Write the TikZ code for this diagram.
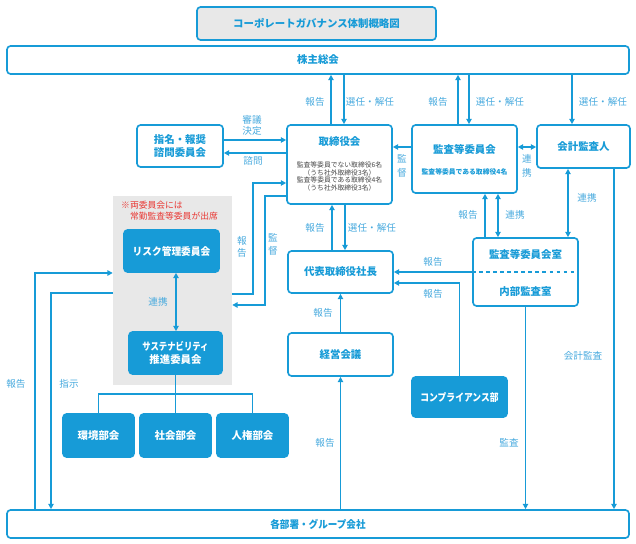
\documentclass[tikz,border=0pt]{standalone}
\usepackage{fontspec}
\setmainfont{Noto Sans CJK JP}
\usetikzlibrary{positioning, arrows.meta, calc}
\definecolor{govblue}{RGB}{23,155,215}
\definecolor{labelblue}{RGB}{72,170,222}
\definecolor{notered}{RGB}{232,56,52}
\definecolor{panelgray}{RGB}{232,232,232}
\definecolor{notegray}{RGB}{70,70,70}
\newcommand{\narrow}[2]{\scalebox{#1}[1]{#2}}

\begin{document}
\begin{tikzpicture}[
    x=0.03cm, y=-0.03cm,
    boxsize/.style 2 args={minimum width=#1*0.03cm, minimum height=#2*0.03cm},
    box/.style={
      draw=govblue, line width=1.4pt, rounded corners=3pt, fill=white,
      text=govblue, font=\fontsize{8.9}{11}\selectfont\bfseries,
      align=center, inner sep=0pt
    },
    filledbox/.style={box, fill=govblue, text=white},
    boxtext/.style={text=govblue, font=\fontsize{8.9}{11}\selectfont\bfseries, inner sep=0pt},
    lbl/.style={text=labelblue, font=\fontsize{8.2}{10}\selectfont, align=center, inner sep=0pt},
    arr/.style={draw=govblue, line width=1.1pt, -{Triangle[length=4.5pt, width=4.5pt]}},
    dblarr/.style={arr, {Triangle[length=4.5pt, width=4.5pt]}-{Triangle[length=4.5pt, width=4.5pt]}},
    link/.style={draw=govblue, line width=1.1pt},
]
    \useasboundingbox (0,0) rectangle (636,544);

    % Title and the two long bars
    \node[box, fill=panelgray, boxsize={239}{33}] (title) at (316.5,23.5) {コーポレートガバナンス体制概略図};
    \node[box, boxsize={622}{28}] (agm) at (318,60) {株主総会};
    \node[box, boxsize={622}{28}] (depts) at (318,524) {\narrow{0.92}{各部署・グループ会社}};

    % Grey panel with the committees
    \node[fill=panelgray, boxsize={119}{189}, inner sep=0pt] (panel) at (172.5,290.5) {};
    \node[text=notered, font=\fontsize{7.5}{9.4}\selectfont, align=left, anchor=west, inner sep=0pt]
      (panelnote) at (121,210.5) {※両委員会には\\\phantom{※}常勤監査等委員が出席};
    \node[filledbox, boxsize={95}{42}] (risk) at (171.5,251) {\narrow{0.93}{リスク管理委員会}};
    \node[filledbox, boxsize={93}{42}] (sust) at (175.5,353) {\narrow{0.8}{サステナビリティ}\\推進委員会};
    \node[filledbox, boxsize={71}{43}] (env) at (98.5,435.5) {環境部会};
    \node[filledbox, boxsize={71}{43}] (soc) at (175.5,435.5) {社会部会};
    \node[filledbox, boxsize={71}{43}] (hr) at (252.5,435.5) {人権部会};

    % Board level
    \node[box, boxsize={86}{42}] (nomin) at (180,146) {指名・報奨\\諮問委員会};
    \node[box, boxsize={105}{79}] (board) at (339.5,164.5) {};
    \node[boxtext] (boardtitle) at (339.5,142) {取締役会};
    \node[text=notegray, font=\fontsize{5.8}{6.6}\selectfont, align=center, inner sep=0pt]
      (boardnote) at (339.5,176.5) {監査等委員でない取締役6名\\（うち社外取締役3名）\\監査等委員である取締役4名\\（うち社外取締役3名）};
    \node[box, boxsize={105}{68}] (acc) at (464.5,159) {};
    \node[boxtext] (acctitle) at (464.5,149) {監査等委員会};
    \node[boxtext, font=\fontsize{5.8}{7}\selectfont\bfseries] (accnote) at (464.5,172) {監査等委員である取締役4名};
    \node[box, boxsize={93}{43}] (auditor) at (583.5,146.5) {会計監査人};

    % Executive level
    \node[box, boxsize={105}{42}] (ceo) at (340.5,272) {代表取締役社長};
    \node[box, boxsize={105}{43}] (mgmt) at (340.5,354.5) {経営会議};
    \node[filledbox, boxsize={95}{40}] (comp) at (459.5,397) {\narrow{0.84}{コンプライアンス部}};
    \node[box, boxsize={105}{68}] (office) at (525.5,272) {};
    \node[boxtext] (officetop) at (525.5,254) {監査等委員会室};
    \node[boxtext] (officebot) at (525.5,292) {内部監査室};
    \draw[govblue, line width=1.1pt, dashed] (office.west) -- (office.east);

    % Shareholders meeting
    \draw[arr] (331,0 |- board.north) -- (331,0 |- agm.south);
    \draw[arr] (344,0 |- agm.south) -- (344,0 |- board.north);
    \draw[arr] (458,0 |- acc.north) -- (458,0 |- agm.south);
    \draw[arr] (469,0 |- agm.south) -- (469,0 |- acc.north);
    \draw[arr] (572,0 |- agm.south) -- (572,0 |- auditor.north);
    \node[lbl] (agmrep1) at (315,102) {報告};
    \node[lbl] (agmsel1) at (370,102) {選任・解任};
    \node[lbl] (agmrep2) at (438,102) {報告};
    \node[lbl] (agmsel2) at (500,102) {選任・解任};
    \node[lbl] (agmsel3) at (603,102) {選任・解任};

    % Around the board
    \draw[arr] (nomin.east |- 0,140) -- (board.west |- 0,140);
    \draw[arr] (board.west |- 0,153) -- (nomin.east |- 0,153);
    \node[lbl] (nominlbl1) at (252,125.5) {審議\\決定};
    \node[lbl] (nominlbl2) at (253,161) {諮問};
    \draw[arr] (acc.west |- 0,147) -- (board.east |- 0,147);
    \draw[dblarr] (acc.east |- 0,147) -- (auditor.west |- 0,147);
    \node[lbl, font=\fontsize{8.2}{11.5}\selectfont] (acclbl) at (402,166) {監\\督};
    \node[lbl, font=\fontsize{8.2}{11.5}\selectfont] (audlbl) at (527,166) {連\\携};

    % Board and president
    \draw[arr] (345,0 |- board.south) -- (345,0 |- ceo.north);
    \draw[arr] (332,0 |- ceo.north) -- (332,0 |- board.south);
    \node[lbl] (ceorep) at (315,228) {報告};
    \node[lbl] (ceosel) at (372,228) {選任・解任};

    % Panel and board
    \draw[arr] (panel.east |- 0,294) -- (253,294) -- (253,183) -- (board.west |- 0,183);
    \draw[arr] (board.west |- 0,196) -- (265,196) -- (265,305) -- (panel.east |- 0,305);
    \node[lbl, font=\fontsize{8.2}{10.5}\selectfont] (panelrep) at (242,247) {報\\告};
    \node[lbl, font=\fontsize{8.2}{10.5}\selectfont] (panelsup) at (273,244.5) {監\\督};

    % Panel and departments
    \draw[arr] (35,0 |- depts.north) -- (35,273) -- (panel.west |- 0,273);
    \draw[arr] (panel.west |- 0,293) -- (51,293) -- (51,0 |- depts.north);
    \node[lbl] (deptrep) at (16,384) {報告};
    \node[lbl] (deptins) at (69,384) {指示};

    % Inside the panel
    \draw[dblarr] (176,0 |- risk.south) -- (176,0 |- sust.north);
    \node[lbl] (risklbl) at (158,302) {連携};
    \draw[link] (sust.south) -- (soc.north);
    \draw[link] (env.north) -- (env.north |- 0,394) -- (hr.north |- 0,394) -- (hr.north);

    % Management meeting
    \draw[arr] (mgmt.north) -- (ceo.south);
    \draw[arr] (mgmt.south |- depts.north) -- (mgmt.south);
    \node[lbl] (mgmtrep) at (323,313) {報告};
    \node[lbl] (deptmgmt) at (325,443) {報告};

    % Audit office and compliance
    \draw[arr] (office.west) -- (ceo.east);
    \draw[arr] (comp.north) |- (ceo.east |- 0,283);
    \node[lbl] (officerep) at (433,262) {報告};
    \node[lbl] (comprep) at (433,294) {報告};
    \draw[arr] (485,0 |- office.north) -- (485,0 |- acc.south);
    \draw[dblarr] (498,0 |- office.north) -- (498,0 |- acc.south);
    \draw[dblarr] (568,0 |- office.north) -- (568,0 |- auditor.south);
    \node[lbl] (officeacc1) at (468,215) {報告};
    \node[lbl] (officeacc2) at (515,215) {連携};
    \node[lbl] (officeaud) at (587,198) {連携};

    % Audits of the departments
    \draw[arr] (614,0 |- auditor.south) -- (614,0 |- depts.north);
    \draw[arr] (office.south) -- (office.south |- depts.north);
    \node[lbl] (audaudit) at (583,356) {会計監査};
    \node[lbl] (officeaudit) at (509,443) {監査};
\end{tikzpicture}
\end{document}
